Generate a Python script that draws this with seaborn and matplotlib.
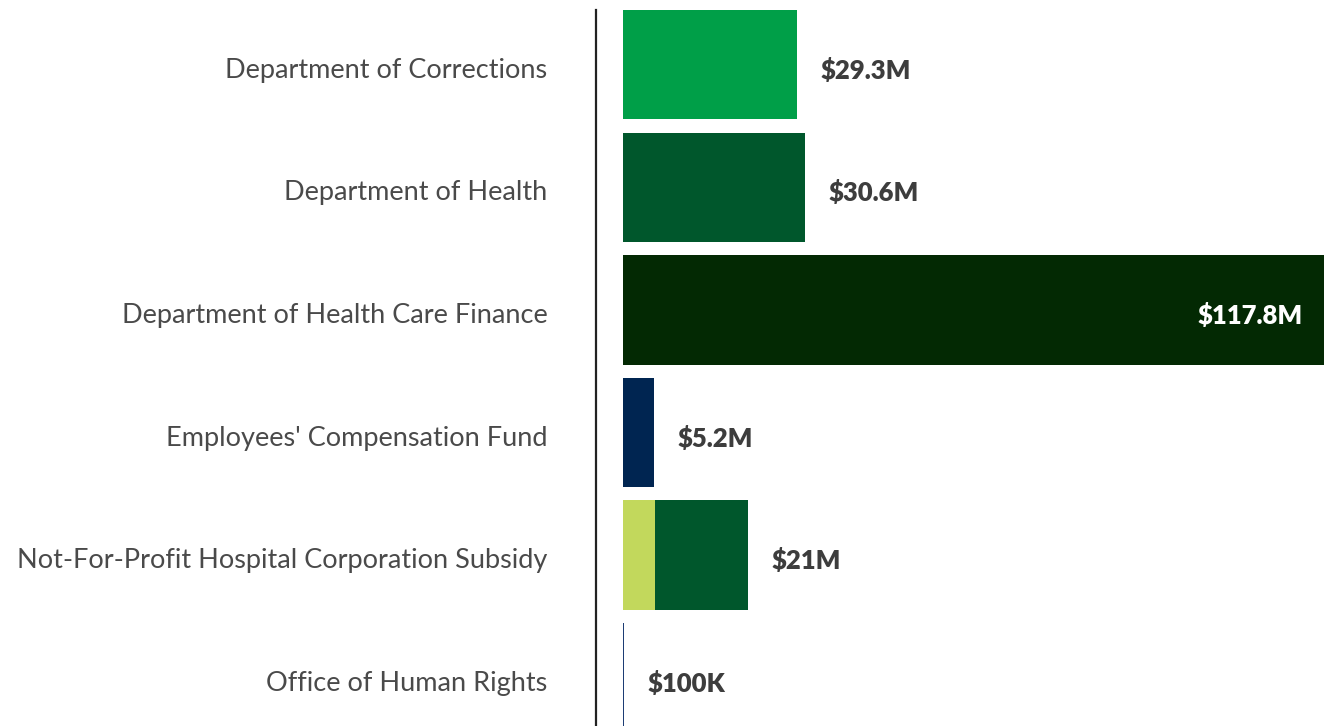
import numpy as np
import pandas as pd
import matplotlib
matplotlib.use('Agg')
import matplotlib.pyplot as plt
import matplotlib.transforms as mtransforms
import seaborn as sns

# data
depts = ['Department of Corrections', 'Department of Health',
         'Department of Health Care Finance', "Employees' Compensation Fund",
         'Not-For-Profit Hospital Corporation Subsidy', 'Office of Human Rights']
first_seg = [29.2, 30.6, 117.8, 5.2, 5.3, 0.1]      # $M, left piece of each bar
second_seg = [0.1, 0.0, 0.0, 0.0, 15.7, 0.0]        # $M, piece stacked after it
value_labels = ['$29.3M', '$30.6M', '$117.8M', '$5.2M', '$21M', '$100K']

first_colors = ['#009f48', '#00572c', '#032903', '#002551', '#c2d85c', '#1d3d74']
second_colors = ['#c2d85c', '#00572c', '#032903', '#002551', '#00572c', '#1d3d74']

df = pd.DataFrame({'dept': depts, 'first': first_seg, 'second': second_seg})
df['total'] = df['first'] + df['second']

sns.set_style('white')
plt.rcParams['font.family'] = ['Lato', 'DejaVu Sans']

fig = plt.figure(figsize=(13.32, 7.26), dpi=100)
ax = fig.add_axes([596 / 1332, 1 - 732.5 / 726, (1324 - 596) / 1332, 722.5 / 726])

# stacked: draw totals first, then the first piece on top
sns.barplot(data=df, x='total', y='dept', hue='dept', palette=second_colors,
            orient='h', width=0.893, legend=False, ax=ax, saturation=1, linewidth=0)
sns.barplot(data=df, x='first', y='dept', hue='dept', palette=first_colors,
            orient='h', width=0.893, legend=False, ax=ax, saturation=1, linewidth=0)

ax.set_xlim(-4.54, 117.8)
ax.set_ylim(5.4465, -0.4465)
ax.set_xlabel('')
ax.set_ylabel('')
ax.set_xticks([])
ax.tick_params(axis='y', length=0, pad=35, labelsize=19.5, labelcolor='#4a4a4a')
shift = mtransforms.ScaledTranslation(0, -3 / 100, fig.dpi_scale_trans)
for lab in ax.get_yticklabels():
    lab.set_transform(lab.get_transform() + shift)

for s in ['top', 'right', 'bottom']:
    ax.spines[s].set_visible(False)
ax.spines['left'].set_color('#222222')
ax.spines['left'].set_linewidth(1.6)

for i, (tot, lab) in enumerate(zip(df['total'], value_labels)):
    if tot > 100:
        ax.annotate(lab, (tot, i), xytext=(-15, -4), textcoords='offset points',
                    ha='right', va='center', fontsize=18.5, fontweight='heavy', color='white')
    else:
        ax.annotate(lab, (tot, i), xytext=(17, -4), textcoords='offset points',
                    ha='left', va='center', fontsize=18.5, fontweight='heavy', color='#3d3d3d')

fig.savefig('out.png', dpi=100)
